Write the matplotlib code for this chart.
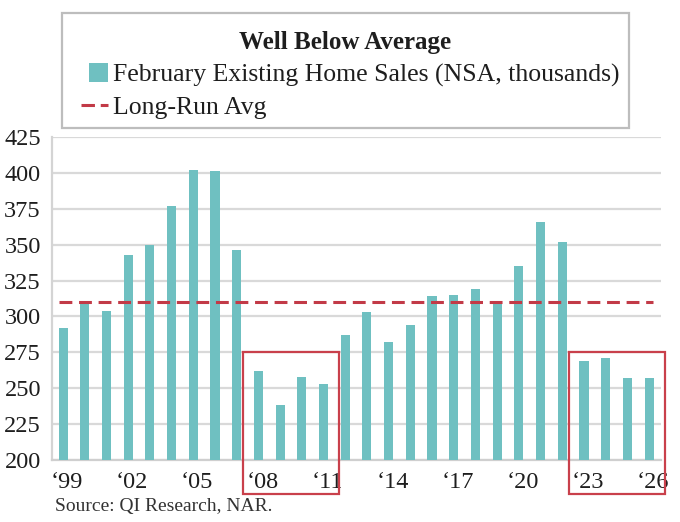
import matplotlib
matplotlib.use("Agg")
import matplotlib.pyplot as plt
from matplotlib.patches import Rectangle, Patch
from matplotlib.lines import Line2D
from matplotlib.legend_handler import HandlerPatch
import matplotlib.transforms as mtransforms

years = list(range(1999, 2027))
sales = [292, 310, 304, 343, 350, 377, 402, 401, 346, 262, 238, 258, 253,
         287, 303, 282, 294, 314, 315, 319, 310, 335, 366, 352, 269, 271, 257, 257]
long_run_avg = 310
tick_years = [1999, 2002, 2005, 2008, 2011, 2014, 2017, 2020, 2023, 2026]
tick_labels = ["\u201899", "\u201802", "\u201805", "\u201808", "\u201811",
               "\u201814", "\u201817", "\u201820", "\u201823", "\u201826"]
y_ticks = [200, 225, 250, 275, 300, 325, 350, 375, 400, 425]
highlight_ranges = [(2008, 2011), (2023, 2026)]
highlight_top = 275

title = "Well Below Average"
bar_label = "February Existing Home Sales (NSA, thousands)"
avg_label = "Long-Run Avg"
source = "Source: QI Research, NAR."

BAR = "#6fc0c1"
RED = "#c23a47"
BOX = "#c9404b"
GRID = "#d9d9d9"
TXT = "#1e1e1e"

plt.rcParams['font.family'] = ['Liberation Serif', 'DejaVu Serif']

W, H = 680, 522
fig = plt.figure(figsize=(6.8, 5.22), dpi=100)
ax = fig.add_axes([52/W, 1-460/H, (661-52)/W, (460-137)/H])

ax.bar(years, sales, width=0.42, color=BAR, zorder=3)
ax.hlines(long_run_avg, years[0]-0.2, years[-1]+0.2, colors=RED, linewidth=2.2,
          linestyles=(0, (4.2, 2.2)), zorder=4)

ax.set_ylim(200, 425)
ax.set_xlim(years[0]-0.51, years[-1]+0.55)
ax.set_yticks(y_ticks)
ax.set_xticks(tick_years)
ax.set_xticklabels(tick_labels)
ax.tick_params(axis='both', length=0, labelsize=17.5, colors=TXT)
ax.tick_params(axis='y', pad=8)
ax.tick_params(axis='x', pad=9)
offset = mtransforms.ScaledTranslation(4/100, 0, fig.dpi_scale_trans)
for lab in ax.get_xticklabels():
    lab.set_transform(lab.get_transform() + offset)

ax.grid(axis='y', color=GRID, linewidth=1.6, zorder=0)
for s in ['top', 'right']:
    ax.spines[s].set_visible(False)
ax.spines['left'].set_color("#d4d4d4")
ax.spines['left'].set_linewidth(1.6)
ax.spines['bottom'].set_color("#cfcfcf")
ax.spines['bottom'].set_linewidth(1.6)
ax.set_axisbelow(True)

# highlight boxes
ybottom = 200 - 34/1.44
for a, b in highlight_ranges:
    r = Rectangle((a-0.7, ybottom), (b-a)+1.42, highlight_top-ybottom, fill=False,
                  edgecolor=BOX, linewidth=1.6, clip_on=False, zorder=6)
    ax.add_patch(r)

# legend frame
frame = Rectangle((62/W, 1-128/H), (629-62)/W, (128-13)/H, transform=fig.transFigure,
                  facecolor='white', edgecolor="#bdbdbd", linewidth=1.6, zorder=1)
fig.patches.append(frame)

# legend
def make_square(legend, orig_handle, xdescent, ydescent, width, height, fontsize):
    s = 14.2
    return Rectangle((-xdescent + width - s, -ydescent + (height - s)/2), s, s)

h_bar = Patch(facecolor=BAR, edgecolor='none')
h_avg = Line2D([], [], color=RED, linewidth=2.2, linestyle=(0, (4.4, 1.9)))
leg_top = 1 - 13/H
leg = fig.legend([h_bar, h_avg], [bar_label, avg_label],
                 loc='upper left', bbox_to_anchor=(62/W, leg_top - 0.25, 567/W, 0.25),
                 mode='expand', ncol=1, fontsize=18.5, title=title,
                 title_fontproperties={'weight': 'bold', 'size': 18},
                 frameon=False, handlelength=1.08, handleheight=0.7,
                 handletextpad=0.2, labelspacing=0.35, borderpad=0.72,
                 borderaxespad=0,
                 handler_map={Patch: HandlerPatch(patch_func=make_square)})
leg.set_zorder(2)
for t in leg.get_texts():
    t.set_color(TXT)
leg.get_title().set_color(TXT)

fig.text(55/W, 1-506/H, source, fontsize=14, color="#333333", va='center', ha='left')

fig.savefig("out.png", dpi=100)
